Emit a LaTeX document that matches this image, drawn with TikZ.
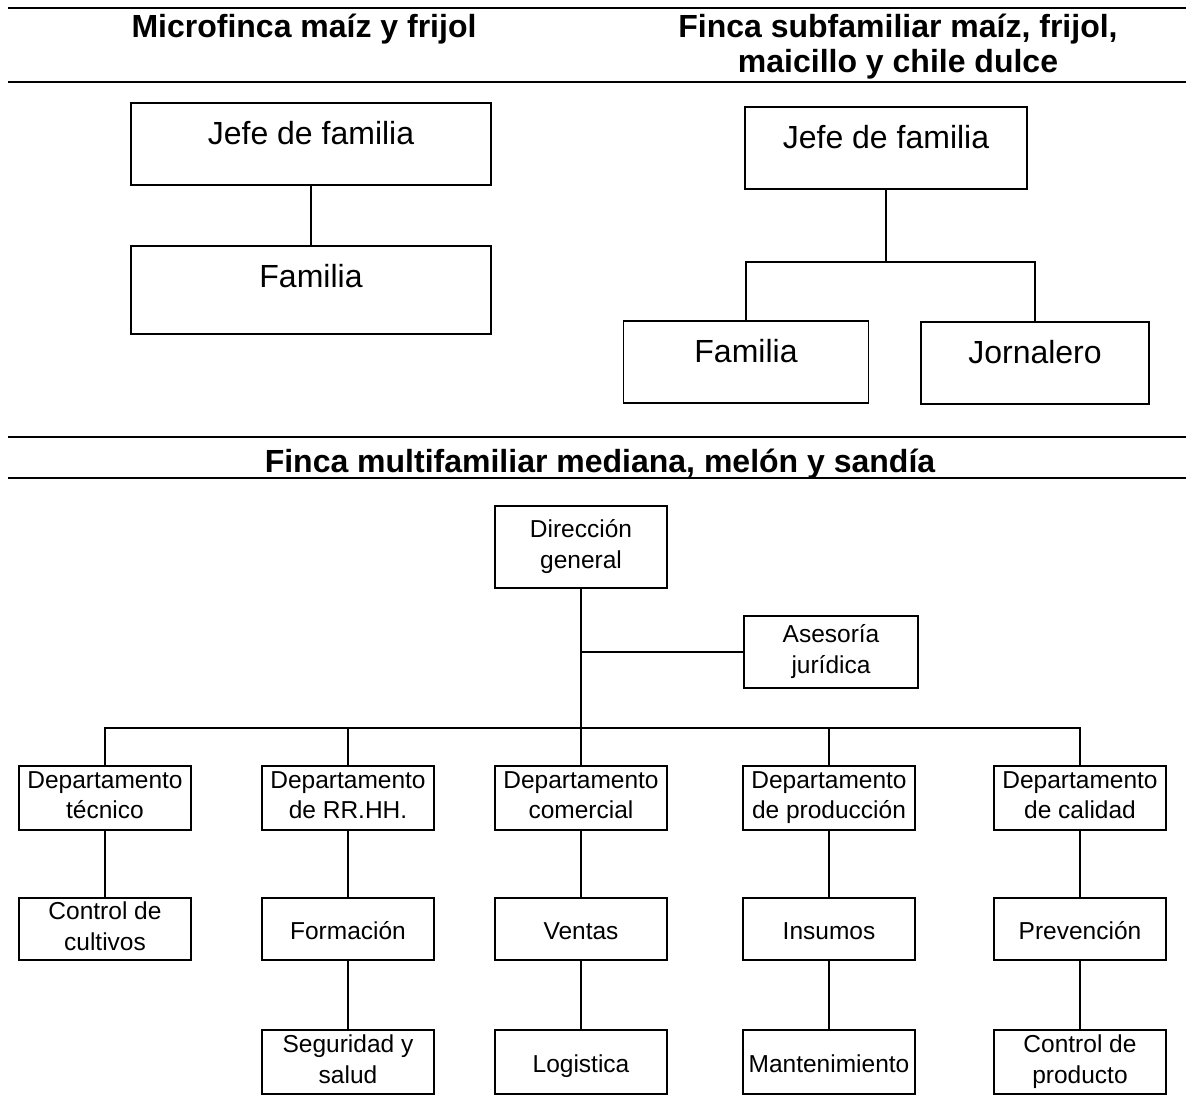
\documentclass[tikz,border=0pt]{standalone}
\usepackage{fontspec}
\setmainfont{Liberation Sans}
\usepackage{xcolor}
\usepackage{tikz}

\newcommand{\orgTopStrut}{\rule{0pt}{26.5pt}}
\newcommand{\orgBotStrut}{\rule[-6pt]{0pt}{6pt}}

\tikzset{
  hrule/.style={line width=1.4pt},
  link/.style={line width=1.2pt},
  titleText/.style={font=\bfseries\fontsize{32}{35}\selectfont, align=center, inner sep=0pt},
  famBox/.style={draw, line width=1.5pt, inner xsep=0pt, inner ysep=0pt, text height=41pt, text depth=41pt, anchor=base, font=\fontsize{32}{36}\selectfont},
  orgBox/.style={draw, line width=1.5pt, minimum width=172pt, inner sep=0pt, align=center, font=\fontsize{24.5}{30.5}\selectfont, execute at begin node=\orgTopStrut, execute at end node=\orgBotStrut}
}

\begin{document}
\begin{tikzpicture}[x=1pt, y=-1pt]
\useasboundingbox (0,0) rectangle (1186,1096);
\foreach \y in {8,82,437,478}{
\draw[hrule] (8,\y) -- (1186,\y);
};
\node[titleText, anchor=base] (microT) at (304,37) {Microfinca maíz y frijol};
\node[titleText] (subT) at (898,47) {Finca subfamiliar maíz, frijol,\\maicillo y chile dulce};
\node[titleText, anchor=base] (multiT) at (600,472) {Finca multifamiliar mediana, melón y sandía};

\node[famBox, minimum width=360pt] (jefeA) at (311,144) {Jefe de familia};
\node[famBox, minimum width=360pt, text depth=47pt] (famA) at (311,287) {Familia};
\draw[link] (jefeA) -- (famA);

\node[famBox, minimum width=282pt] (jefeB) at (886,148) {Jefe de familia};
\node[famBox, minimum width=245pt] (famB) at (746,362) {Familia};
\node[famBox, minimum width=228pt] (jornB) at (1035,363) {Jornalero};
\coordinate (busB) at (886,262);
\draw[link] (jefeB.south) -- (busB);
\draw[link] (famB.north) |- (busB) -| (jornB.north);

\node[orgBox, minimum height=82pt] (dirG) at (581,547) {Dirección\\general};
\node[orgBox, minimum width=174pt, minimum height=72pt] (asesJ) at (831,652) {Asesoría\\jurídica};
\foreach \n/\x/\t in {tec/105/{Departamento\\técnico}, rrhh/348/{Departamento\\de RR.HH.}, com/581/{Departamento\\comercial}, prod/829/{Departamento\\de producción}, cal/1080/{Departamento\\de calidad}}{
\node[orgBox, minimum height=64pt] (\n) at (\x,798) {\t};
};
\foreach \n/\x/\t in {ctrlC/105/{Control de\\cultivos}, form/348/{Formación}, vent/581/{Ventas}, insu/829/{Insumos}, prev/1080/{Prevención}}{
\node[orgBox, minimum height=62pt] (\n) at (\x,929) {\t};
};
\foreach \n/\x/\t in {segu/348/{Seguridad y\\salud}, logi/581/{Logistica}, mant/829/{Mantenimiento}, ctrlP/1080/{Control de\\producto}}{
\node[orgBox, minimum height=64pt] (\n) at (\x,1062) {\t};
};

\coordinate (busM) at (581,728);
\draw[link] (dirG) -- (com);
\draw[link] (asesJ.west) -- (asesJ.west -| dirG.south);
\draw[link] (tec.north) |- (busM) -| (cal.north);
\foreach \n in {rrhh,prod}{
\draw[link] (\n.north) -- (\n.north |- busM);
};
\foreach \a/\b in {tec/ctrlC, rrhh/form, com/vent, prod/insu, cal/prev, form/segu, vent/logi, insu/mant, prev/ctrlP}{
\draw[link] (\a) -- (\b);
};
\end{tikzpicture}
\end{document}
